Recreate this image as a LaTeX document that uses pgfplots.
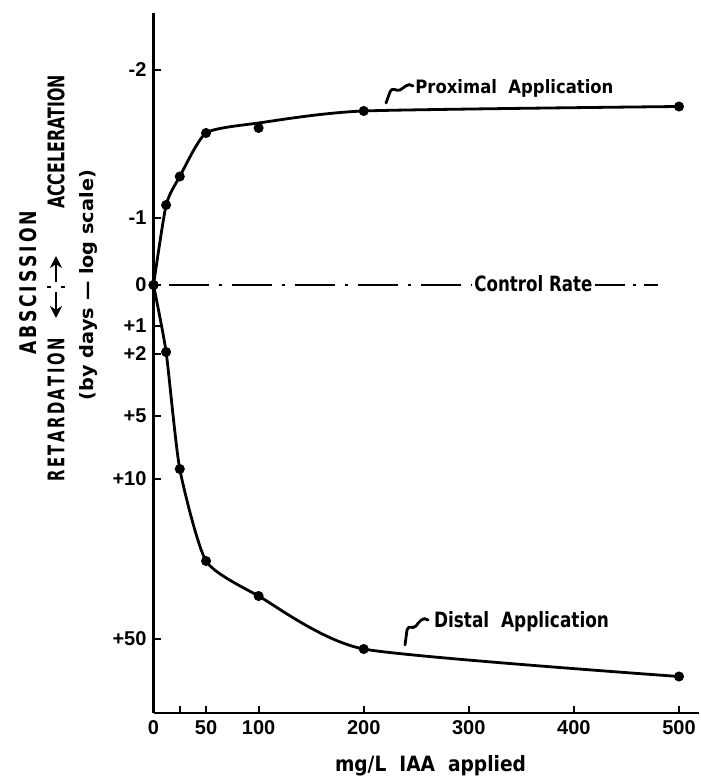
\documentclass[border=0pt]{standalone}
\usepackage{pgfplots}
\pgfplotsset{compat=1.18}
\usepackage{pgfplotstable}
\usepackage{graphicx}
\usepackage{fontspec}
\setmainfont{Liberation Sans}
\newfontfamily\heavy{DejaVu Sans}
\usetikzlibrary{arrows.meta}

% positions on the chart's own (days, log-like) scale, expressed as distance from the control line
\pgfplotstableread{
x y
0 0
12 80
25 108.5
50 152
100 157
200 174
500 178.5
}\proxpts
\pgfplotstableread{
x y
0 0
12 80
25 108.5
50 152
100 162
200 174
500 178.5
}\proxline
\pgfplotstableread{
x y
0 0
12 -67
25 -184
50 -276
100 -311
200 -364
500 -391.5
}\distpts

\begin{document}
\begin{tikzpicture}
\begin{axis}[
  at={(76.75pt,-356.5pt)}, anchor=south west,
  x=0.5255pt, y=0.5pt,
  xmin=0, xmax=519, ymin=-428, ymax=272,
  axis x line=bottom, axis y line=left,
  axis line style={-, line width=1.2pt},
  xtick={0,25,50,100,200,300,400,500},
  xticklabels={0,,50,100,200,300,400,500},
  ytick={215,67,0,-41,-69,-131,-194,-354},
  yticklabels={-2,-1,0,+1,+2,+5,+10,+50},
  tick align=inside, major tick length=3.5pt,
  tick style={line width=1pt, black},
  ticklabel style={font=\bfseries\fontsize{10}{12}\selectfont},
  clip=false,
]
\addplot[line width=1pt, dash pattern=on 1.5pt off 5pt on 20pt off 5pt] coordinates {(2,0) (303,0)};
\addplot[line width=1pt, dash pattern=on 15pt off 4pt on 1.5pt off 4pt] coordinates {(420,0) (480,0)};
\addplot[line width=1.4pt, smooth, tension=0.35] table {\proxline};
\addplot[only marks, mark=*, mark size=2.3pt] table {\proxpts};
\addplot[line width=1.4pt, smooth, tension=0.35] table {\distpts};
\addplot[only marks, mark=*, mark size=2.3pt] table {\distpts};
\end{axis}
\begin{scope}[x=0.5pt,y=-0.5pt]
\node[rotate=90, inner sep=0] at (28,283) {\resizebox{72pt}{8.5pt}{\heavy\bfseries A\,B\,S\,C\,I\,S\,S\,I\,O\,N}};
\node[rotate=90, inner sep=0] at (56,410) {\resizebox{71.5pt}{8.5pt}{\heavy\bfseries R\,E\,T\,A\,R\,D\,A\,T\,I\,O\,N}};
\node[rotate=90, inner sep=0] at (56,142) {\resizebox{67pt}{8.5pt}{\heavy\bfseries ACCELERATION}};
\draw[line width=1.3pt, -{Stealth[length=6pt,width=6pt]}] (56,282) -- (56,256);
\draw[line width=1.3pt, -{Stealth[length=6pt,width=6pt]}] (56,292) -- (56,318);
\draw[line width=1.3pt] (47,287) -- (51,287) (61,287) -- (65,287);
\node[rotate=90, inner sep=0] at (88,285) {\resizebox{115pt}{7pt}{\heavy\bfseries (by days — log scale)}};
\node[anchor=base west, inner sep=0] at (415,94) {\resizebox{99pt}{7pt}{\heavy\bfseries Proximal\ \ Application}};
\node[anchor=base west, inner sep=0] at (433.6,627) {\resizebox{87.5pt}{8pt}{\heavy\bfseries Distal\ \ Application}};
\node[anchor=base west, inner sep=0] at (474,292) {\resizebox{59pt}{8pt}{\heavy\bfseries Control Rate}};
\node[anchor=base west, inner sep=0] at (334.6,771) {\resizebox{95.5pt}{8pt}{\heavy\bfseries mg/L\ \ IAA\ \ applied}};
\draw[line width=1.4pt, line cap=round] (413,86) .. controls (408,82) and (404,88) .. (400,90) .. controls (396,92) and (393,86) .. (390,92) -- (386,103);
\draw[line width=1.4pt, line cap=round] (428,620) .. controls (423,616) and (419,622) .. (416,626) .. controls (412,630) and (409,624) .. (407,630) -- (405,645);
\pgfresetboundingbox
\path[use as bounding box] (0,0) rectangle (700,779);
\end{scope}
\end{tikzpicture}
\end{document}
